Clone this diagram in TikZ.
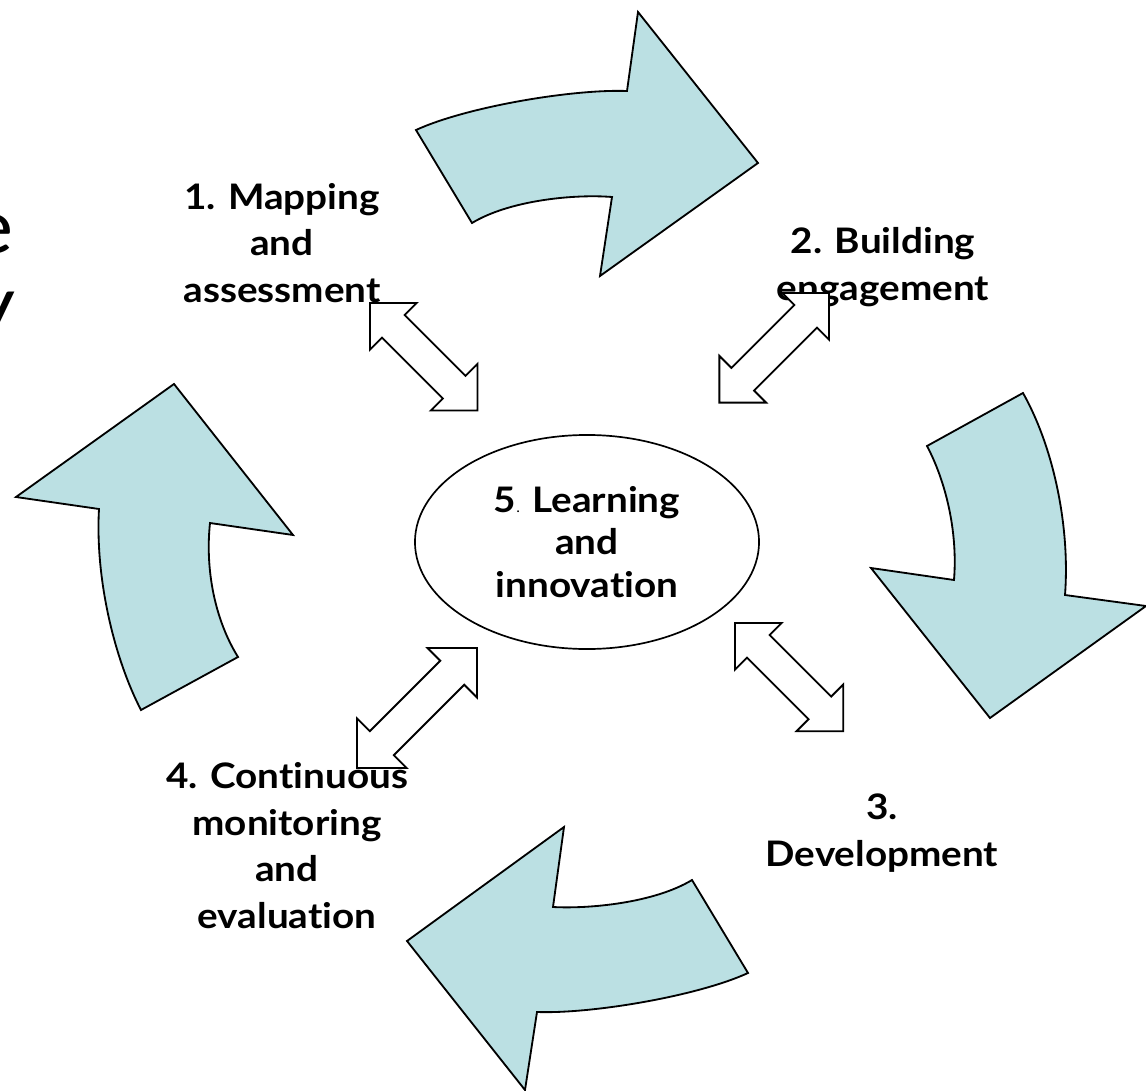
\documentclass[tikz,border=0pt]{standalone}
\usepackage{fontspec}
\setmainfont{Lato}[FakeStretch=1.1, Ligatures=NoCommon]
\usepackage{color,tikz}
\usetikzlibrary{shapes.geometric}
\definecolor{paleblue}{HTML}{BBE0E3}

\begin{document}
\begin{tikzpicture}[x=0.025cm,y=-0.025cm,
    main/.style = {ellipse, draw, line width=1.2pt, minimum width=8.6cm, minimum height=5.35cm, inner sep=0pt, align=center, font=\bfseries\fontsize{25}{30}\selectfont},
    stage/.style = {align=center, anchor=base, inner sep=0pt, font=\bfseries\fontsize{25}{33}\selectfont},
    cut/.style = {anchor=base east, inner sep=0pt, font=\fontsize{54}{54}\selectfont},
    bigarrow/.style = {draw, fill=paleblue, line width=1.3pt},
    twoway/.style = {draw, fill=white, line width=1.3pt},
    pics/dbl/.style = {code={\draw[twoway] (0,0) -- (33,-33) -- (33,-16) -- ({#1-33},-16) -- ({#1-33},-33) -- (#1,0) -- ({#1-33},33) -- ({#1-33},16) -- (33,16) -- (33,33) -- cycle;}}]
                \useasboundingbox (0,0) rectangle (1146,1091);
                % cycle arrows
                \draw[bigarrow] (416,130) .. controls (466,107) and (572,89) .. (627,91) -- (638,12) -- (758,163) -- (600,276) -- (612,197) .. controls (575,194) and (510,200) .. (472,223) -- cycle;
                \draw[bigarrow] (1023,393) .. controls (1055,450) and (1070,530) .. (1065,595) -- (1146,606) -- (990,718) -- (871,568) -- (954,580) .. controls (958,530) and (945,480) .. (927,446) -- cycle;
                \draw[bigarrow] (748,973) .. controls (698,996) and (592,1014) .. (537,1012) -- (525,1090) -- (407,941) -- (564,827) -- (553,907) .. controls (589,909) and (654,903) .. (692,880) -- cycle;
                \draw[bigarrow] (141,710) .. controls (115,660) and (95,580) .. (99,509) -- (16,497) -- (174,384) -- (293,535) -- (210,523) .. controls (205,570) and (215,620) .. (238,657) -- cycle;
                % centre and stages (base = last line)
                \node[main] (5) at (587,542) {5{\mdseries\fontsize{10}{10}\selectfont.} Learning\\and\\innovation};
                \node[stage] (1) at (282,302) {1. Mapping\\and\\assessment};
                \node[stage] (2) at (883,300) {2. Building\\engagement};
                \node[stage] (3) at (882,866) {3.\\Development};
                \node[stage] (4) at (287,928) {4. Continuous\\monitoring\\and\\evaluation};
                % cut off text at the left edge
                \node[cut] (e) at (14,253) {e};
                \node[cut] (y) at (16,330) {y};
                % two-way arrows
                \pic[rotate=-45] at (370,303) {dbl=152};
                \pic[rotate=-135] at (829,293) {dbl=155};
                \pic[rotate=-45] at (735,623) {dbl=153};
                \pic[rotate=-135, scale=1.06] at (477,648) {dbl=160};
            \end{tikzpicture}
\end{document}
